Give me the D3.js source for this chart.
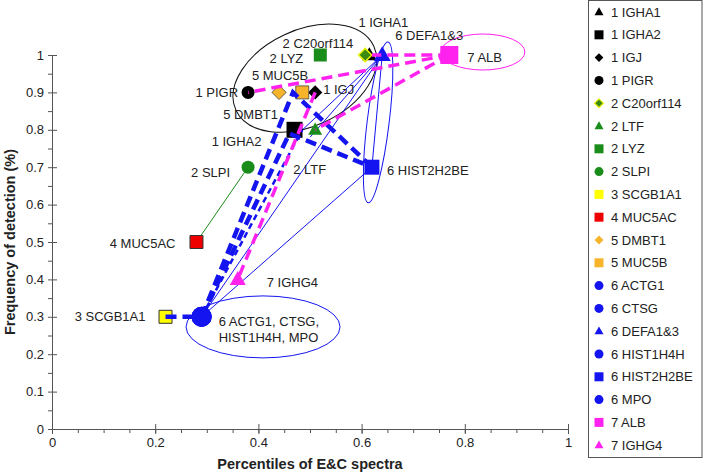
<!DOCTYPE html>
<html><head><meta charset="utf-8">
<script src="https://cdn.jsdelivr.net/npm/d3@7"></script>
<style>
body{margin:0;background:#fff;}
svg{display:block;font-family:"Liberation Sans",Arial,sans-serif;}
</style></head>
<body><svg id="c" width="703" height="473"></svg>
<script>
// ---- data ----
const proteins = ["1 IGHA1","1 IGHA2","1 IGJ","1 PIGR","2 C20orf114","2 LTF","2 LYZ","2 SLPI","3 SCGB1A1","4 MUC5AC","5 DMBT1","5 MUC5B","6 ACTG1","6 CTSG","6 DEFA1&3","6 HIST1H4H","6 HIST2H2BE","6 MPO","7 ALB","7 IGHG4"];
const percentile = [0.615,0.47,0.51,0.38,0.607,0.51,0.52,0.38,0.22,0.28,0.44,0.485,0.29,0.29,0.64,0.29,0.62,0.29,0.77,0.36];
const frequency  = [1.0,0.80,0.90,0.90,1.0,0.80,1.0,0.70,0.30,0.50,0.90,0.90,0.30,0.30,1.0,0.30,0.70,0.30,1.0,0.40];
const xTicks = [0,0.2,0.4,0.6,0.8,1];
const yTicks = [0,0.1,0.2,0.3,0.4,0.5,0.6,0.7,0.8,0.9,1];
// connecting paths, in data units
const blueThickDashed = [
  [[0.22,0.30],[0.29,0.30]],
  [[0.29,0.30],[0.467,0.90],[0.62,0.70]],
  [[0.29,0.30],[0.46,0.79],[0.62,0.70]]
];
const blueThinDashed = [[[0.29,0.30],[0.485,0.80]]];
const blueThin = [
  [[0.29,0.30],[0.64,1.0]],
  [[0.29,0.30],[0.62,0.70]],
  [[0.64,1.0],[0.47,0.78]],
  [[0.64,1.0],[0.50,0.78]],
  [[0.64,1.0],[0.62,0.70]]
];
const magentaDashed = [
  [[0.77,1.0],[0.62,1.0]],
  [[0.77,1.0],[0.38,0.90]],
  [[0.77,1.0],[0.51,0.80]],
  [[0.51,0.90],[0.36,0.40]]
];
const greenThin = [[[0.38,0.70],[0.28,0.50]]];
// ellipse annotations: centre in data units
const ellipseCentres = [[0.49,0.938],[0.409,0.273],[0.835,1.008],[0.632,0.82]];

// ---- styles ----
const BLUE="#1414f0", GREEN="#1a8c1a", MAG="#ff22ee", ORANGE="#f7b42a";
const style = {
 "1 IGHA1":{s:"tri",f:"#000",z:15},
 "1 IGHA2":{s:"sq",f:"#000",z:16},
 "1 IGJ":{s:"dia",f:"#000",z:13},
 "1 PIGR":{s:"cir",f:"#000",z:13},
 "2 C20orf114":{s:"dia",f:"#3a8a10",z:12,st:"#e8f000",sw:1.5},
 "2 LTF":{s:"tri",f:GREEN,z:14},
 "2 LYZ":{s:"sq",f:GREEN,z:13},
 "2 SLPI":{s:"cir",f:GREEN,z:13},
 "3 SCGB1A1":{s:"sq",f:"#ffff00",z:13,st:"#333",sw:1},
 "4 MUC5AC":{s:"sq",f:"#ee0000",z:13,st:"#333",sw:1},
 "5 DMBT1":{s:"dia",f:ORANGE,z:13,st:"#444",sw:0.8},
 "5 MUC5B":{s:"sq",f:ORANGE,z:13,st:"#444",sw:0.8},
 "6 ACTG1":{s:"cir",f:BLUE,z:20},
 "6 CTSG":{s:"cir",f:BLUE,z:20},
 "6 DEFA1&3":{s:"tri",f:BLUE,z:17},
 "6 HIST1H4H":{s:"cir",f:BLUE,z:20},
 "6 HIST2H2BE":{s:"sq",f:BLUE,z:15},
 "6 MPO":{s:"cir",f:BLUE,z:20},
 "7 ALB":{s:"sq",f:MAG,z:18},
 "7 IGHG4":{s:"tri",f:MAG,z:16}
};
// label placement: [dx, dy, anchor] (pixels)
const labelPos = {
 "1 IGHA1":[14,-33,"middle"],"6 DEFA1&3":[13,-20,"start"],"7 ALB":[18,2,"start"],
 "2 C20orf114":[-12,-12,"end"],"2 LYZ":[-17,3,"end"],"5 MUC5B":[6,-17,"end"],
 "1 IGJ":[8,-3,"start"],"1 PIGR":[-10,0,"end"],"5 DMBT1":[-1,22,"end"],
 "1 IGHA2":[-33,12,"end"],"2 LTF":[-22,40,"start"],"2 SLPI":[-18,5,"end"],
 "6 HIST2H2BE":[15,3,"start"],"4 MUC5AC":[-21,1,"end"],"7 IGHG4":[29,3,"start"],
 "3 SCGB1A1":[-20,0,"end"]
};
const ellipseStyle = [
 {rx:76,ry:48,rot:-25,c:"#111"},
 {rx:77,ry:31,rot:0,c:BLUE},
 {rx:42,ry:18,rot:0,c:MAG},
 {rx:11,ry:81,rot:7,c:BLUE}
];

const svg = d3.select("#c");
const x = d3.scaleLinear().domain([0,1]).range([52,568]);
const y = d3.scaleLinear().domain([0,1]).range([429,55]);

function sym(t,z){
  const h=z/2;
  if(t==="sq") return `M${-h},${-h}H${h}V${h}H${-h}Z`;
  if(t==="cir") return d3.arc()({innerRadius:0,outerRadius:h,startAngle:0,endAngle:2*Math.PI});
  if(t==="dia") return `M0,${-h*1.1}L${h*1.1},0L0,${h*1.1}L${-h*1.1},0Z`;
  if(t==="tri"){const hh=z*0.87;return `M0,${-hh*0.6}L${h},${hh*0.4}L${-h},${hh*0.4}Z`;}
}

// ---- axes ----
const gy = svg.append("g").attr("transform",`translate(${x(0)},0)`);
gy.call(d3.axisLeft(y).tickValues(d3.range(0,1.0001,0.05)).tickSize(4).tickFormat("").tickSizeOuter(0));
const gy2 = svg.append("g").attr("transform",`translate(${x(0)},0)`);
gy2.call(d3.axisLeft(y).tickValues(yTicks).tickSize(5).tickFormat(d=>d===0?"0":d===1?"1":d3.format(".1f")(d)).tickSizeOuter(0));
gy2.selectAll(".tick line").attr("x2",5);
const gx = svg.append("g").attr("transform",`translate(0,${y(0)})`);
gx.call(d3.axisBottom(x).tickValues(d3.range(0,1.0001,0.05)).tickSize(4).tickFormat("").tickSizeOuter(0));
const gx2 = svg.append("g").attr("transform",`translate(0,${y(0)})`);
gx2.call(d3.axisBottom(x).tickValues(xTicks).tickSize(5).tickFormat(d=>d===0?"0":d===1?"1":d3.format(".1f")(d)).tickSizeOuter(0));
gx2.selectAll(".tick line").attr("y2",5).attr("y1",-5);
[gx,gy,gx2,gy2].forEach(g=>{
  g.selectAll("path,line").attr("stroke","#555").attr("stroke-width",1);
  g.selectAll("text").attr("font-size",13).attr("fill","#222").attr("font-family","Liberation Sans, Arial, sans-serif");
});
gx2.selectAll("text").attr("dy","0.75em");
gy2.selectAll("text").attr("x",-8);

svg.append("text").attr("x",(x(0)+x(1))/2).attr("y",469).attr("text-anchor","middle")
  .attr("font-weight","bold").attr("font-size",14.5).attr("fill","#222").text("Percentiles of E&C spectra");
svg.append("text").attr("transform",`translate(15,${(y(0)+y(1))/2}) rotate(-90)`).attr("text-anchor","middle")
  .attr("font-weight","bold").attr("font-size",14.5).attr("fill","#222").text("Frequency of detection (%)");

// ---- ellipses ----
ellipseCentres.forEach((c,i)=>{
  const s=ellipseStyle[i];
  svg.append("ellipse").attr("cx",0).attr("cy",0).attr("rx",s.rx).attr("ry",s.ry)
    .attr("transform",`translate(${x(c[0])},${y(c[1])}) rotate(${s.rot})`)
    .attr("fill","none").attr("stroke",s.c).attr("stroke-width",1);
});

const line = d3.line().x(d=>x(d[0])).y(d=>y(d[1]));
function drawLines(arr,color,w,dash){
  arr.forEach(p=>svg.append("path").attr("d",line(p)).attr("fill","none").attr("stroke",color)
    .attr("stroke-width",w).attr("stroke-dasharray",dash||null));
}
drawLines(greenThin,GREEN,1);
drawLines(blueThin,BLUE,1);

// ---- markers ----
const pts = proteins.map((n,i)=>({n,x:percentile[i],y:frequency[i]}));
pts.forEach(p=>{
  const s=style[p.n];
  svg.append("path").attr("d",sym(s.s,s.z)).attr("transform",`translate(${x(p.x)},${y(p.y)})`)
    .attr("fill",s.f).attr("stroke",s.st||"none").attr("stroke-width",s.sw||0);
});

drawLines(blueThickDashed,BLUE,4.5,"11,6");
drawLines(blueThinDashed,BLUE,2.5,"6,4");
drawLines(magentaDashed,MAG,3.5,"11,6");

// ---- labels ----
const lbl = svg.append("g").attr("font-size",13).attr("fill","#222");
pts.forEach(p=>{
  const L=labelPos[p.n]; if(!L) return;
  lbl.append("text").attr("x",x(p.x)+L[0]).attr("y",y(p.y)+L[1]).attr("dy","0.35em")
    .attr("text-anchor",L[2]).text(p.n);
});
const grp = pts.find(p=>p.n==="6 ACTG1");
lbl.append("text").attr("x",x(grp.x)+17).attr("y",y(grp.y)+5).attr("dy","0.35em").text("6 ACTG1, CTSG,");
lbl.append("text").attr("x",x(grp.x)+17).attr("y",y(grp.y)+21).attr("dy","0.35em").text("HIST1H4H, MPO");

// ---- legend ----
const lg = svg.append("g");
lg.append("rect").attr("x",588.5).attr("y",0.5).attr("width",113.5).attr("height",457).attr("fill","#fff").attr("stroke","#555");
proteins.forEach((n,i)=>{
  const s=style[n], yy=12+i*22.8;
  lg.append("path").attr("d",sym(s.s,s.s==="cir"?9:(s.s==="dia"?8:9))).attr("transform",`translate(599,${yy})`)
    .attr("fill",s.f).attr("stroke",n==="2 C20orf114"?"#e8f000":"none").attr("stroke-width",n==="2 C20orf114"?1.2:0);
  lg.append("text").attr("x",611).attr("y",yy).attr("dy","0.35em").attr("font-size",13).attr("fill","#222").text(n);
});
</script></body></html>
